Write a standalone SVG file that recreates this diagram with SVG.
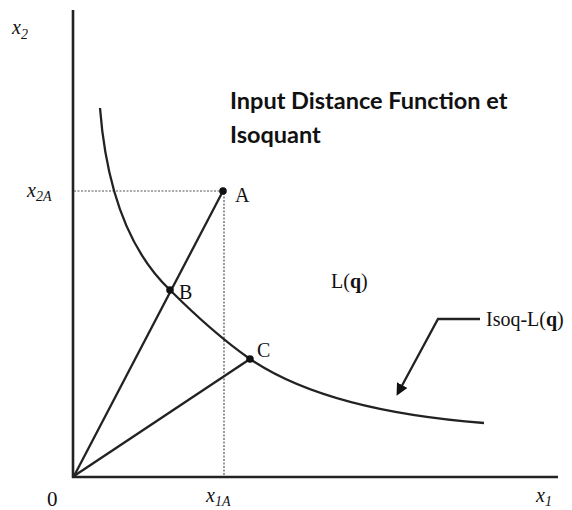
<svg xmlns="http://www.w3.org/2000/svg" width="572" height="510" viewBox="0 0 572 510">
<defs>
<marker id="ah" markerWidth="12" markerHeight="12" refX="9" refY="6" orient="auto" markerUnits="userSpaceOnUse">
<path d="M0,0 L12,6 L0,12 Z" fill="#111"/>
</marker>
<style>
.ax{stroke:#222;stroke-width:2.6;fill:none}
.ln{stroke:#222;stroke-width:2.3;fill:none}
.dot{stroke:#555;stroke-width:1.2;stroke-dasharray:2 1.5;fill:none}
.s{font-family:"Liberation Serif",serif;fill:#111}
.i{font-style:italic}
.t{font-family:Lato,"Open Sans",sans-serif;font-weight:bold;font-size:23.5px;fill:#111}
</style>
</defs>
<rect width="572" height="510" fill="#fff"/>
<g id="axes">
<line class="ax" x1="73" y1="10" x2="73" y2="478"/>
<line class="ax" x1="72" y1="477" x2="558" y2="477"/>
</g>
<g id="connectors">
<line class="dot" x1="74" y1="191" x2="222" y2="191"/>
<line class="dot" x1="224" y1="193" x2="224" y2="476"/>
<line class="ln" x1="74" y1="476" x2="223" y2="191"/>
<line class="ln" x1="74" y1="476" x2="250" y2="359"/>
<path class="ln" d="M100,108 C106,185 128,250 170,290 C200,320 230,345 250,359 C300,393 380,415 484,423"/>
<polyline class="ln" points="480,319 438,319 398,393" marker-end="url(#ah)"/>
</g>
<g id="title">
<text class="t" x="230" y="109">Input Distance Function et</text>
<text class="t" x="230" y="143">Isoquant</text>
</g>
<g id="pointA"><circle cx="223" cy="191" r="3.8" fill="#111"/><text class="s" x="235" y="202" font-size="20">A</text></g>
<g id="pointB"><circle cx="170" cy="290" r="3.8" fill="#111"/><text class="s" x="179" y="299" font-size="20">B</text></g>
<g id="pointC"><circle cx="250" cy="359" r="3.8" fill="#111"/><text class="s" x="257" y="357" font-size="20">C</text></g>
<g id="Lq"><text class="s" x="331" y="288" font-size="20">L(<tspan font-weight="bold">q</tspan>)</text></g>
<g id="isoq"><text class="s" x="486" y="326" font-size="20">Isoq-L(<tspan font-weight="bold">q</tspan>)</text></g>
<g id="labels">
<text class="s i" x="12" y="34" font-size="20">x<tspan font-size="14" dy="5">2</tspan></text>
<text class="s i" x="27" y="197" font-size="20">x<tspan font-size="14" dy="4">2A</tspan></text>
<text class="s" x="47" y="506" font-size="21">0</text>
<text class="s i" x="206" y="502" font-size="20">x<tspan font-size="14" dy="4">1A</tspan></text>
<text class="s i" x="536" y="502" font-size="20">x<tspan font-size="14" dy="4">1</tspan></text>
</g>
</svg>
